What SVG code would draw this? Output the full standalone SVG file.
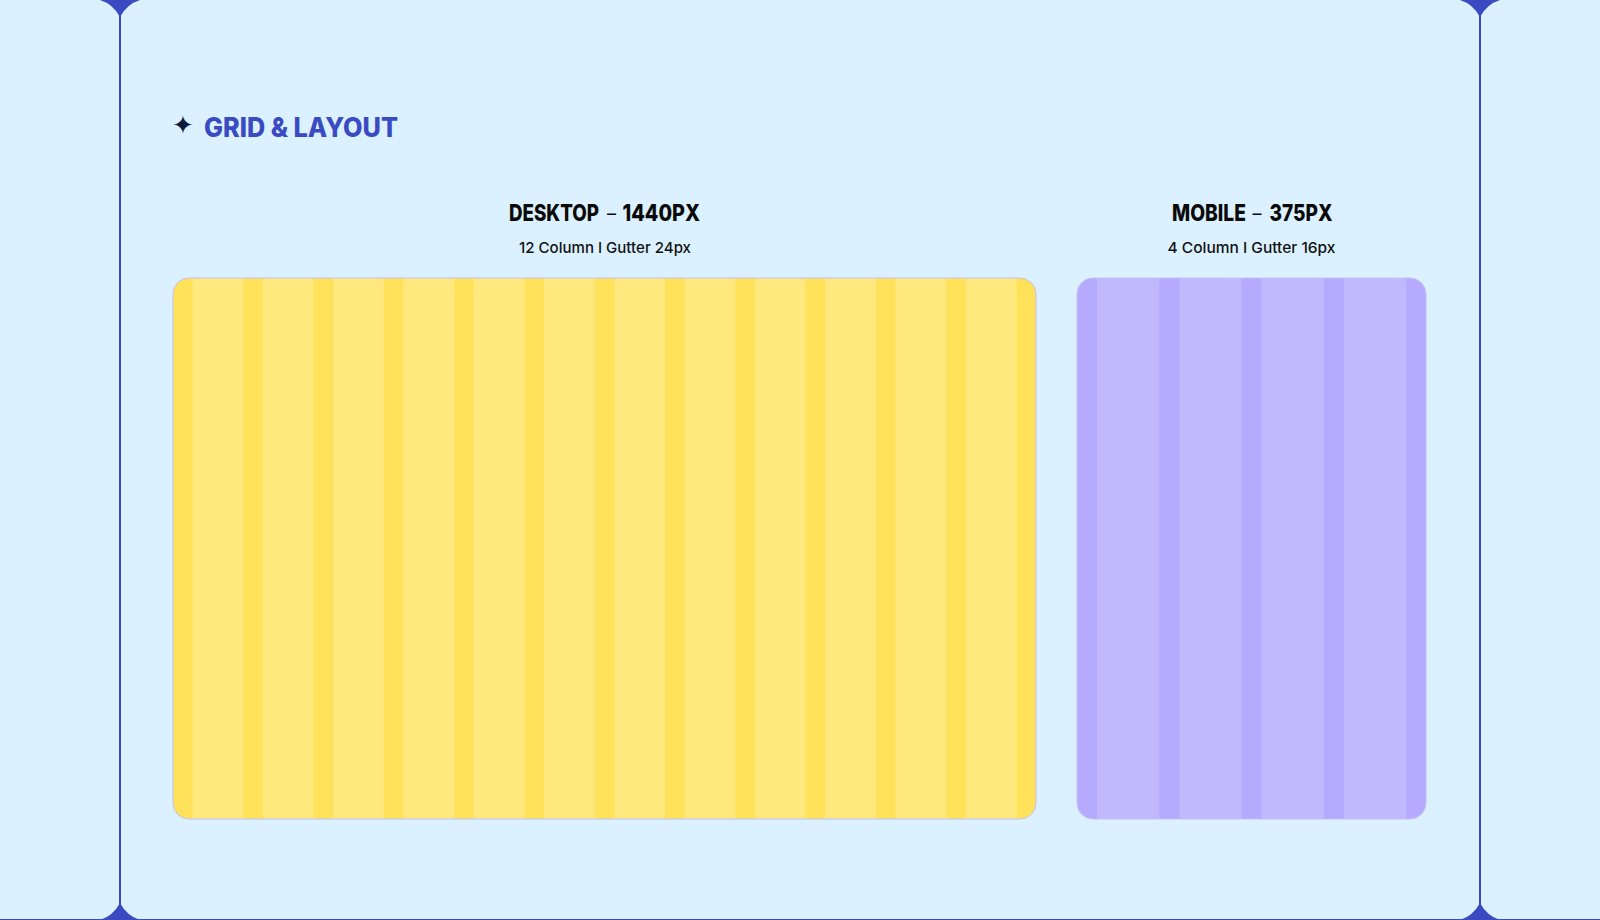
<svg xmlns="http://www.w3.org/2000/svg" width="1600" height="920" viewBox="0 0 1600 920">
<style>
.frame{stroke:#3A4BC2;stroke-width:2;fill:none}
.cusp{fill:#3A4BC2}
.title{font-family:Inter,"Liberation Sans",sans-serif;font-weight:800;font-size:27px;fill:#3A4BC2}
.star{font-family:"DejaVu Sans",sans-serif;font-size:26px;fill:#0F1B3D}
.head{font-family:Inter,"Liberation Sans",sans-serif;font-weight:800;font-size:23px;fill:#0A0A0A}
.dash{font-family:Inter,"Liberation Sans",sans-serif;font-weight:400;font-size:18px;fill:#0A0A0A;text-anchor:middle}
.sub{font-family:Inter,"Liberation Sans",sans-serif;font-weight:500;font-size:15px;fill:#111;text-anchor:middle}
.dpanel{fill:#FFE25A}
.dcol{fill:#FFE87E}
.mpanel{fill:#B5AAFE}
.mcol{fill:#C1B8FE}
.edge{fill:none;stroke:#C7BEF4;stroke-width:1}
</style>
<rect width="1600" height="920" fill="#DBF1FF"/>
<g id="frame">
<line class="frame" x1="120" y1="0" x2="120" y2="920"/>
<line class="frame" x1="1480" y1="0" x2="1480" y2="920"/>
<line x1="0" y1="919.5" x2="1600" y2="919.5" stroke="#3A4BC2" stroke-width="1"/>
<path class="cusp" d="M100,0 Q113,4 120,17 Q127,4 140,0 Z"/>
<path class="cusp" d="M100,920 Q113,916 120,903 Q127,916 140,920 Z"/>
<path class="cusp" d="M1460,0 Q1473,4 1480,17 Q1487,4 1500,0 Z"/>
<path class="cusp" d="M1460,920 Q1473,916 1480,903 Q1487,916 1500,920 Z"/>
</g>
<g id="title">
<text class="star" x="172" y="134">✦</text>
<text class="title" x="204" y="137" textLength="194" lengthAdjust="spacingAndGlyphs">GRID &amp; LAYOUT</text>
</g>
<g id="desktop">
<text class="head" x="509" y="221" textLength="90" lengthAdjust="spacingAndGlyphs">DESKTOP</text>
<text class="dash" x="611.5" y="220">–</text>
<text class="head" x="622.5" y="221" textLength="77.5" lengthAdjust="spacingAndGlyphs">1440PX</text>
<text class="sub" x="605" y="253" textLength="172" lengthAdjust="spacingAndGlyphs">12 Column I Gutter 24px</text>
<clipPath id="dclip"><rect x="173" y="278" width="863" height="541" rx="16"/></clipPath>
<rect class="dpanel" x="173" y="278" width="863" height="541" rx="16"/>
<g clip-path="url(#dclip)">
<rect class="dcol" x="192.5" y="278" width="50.8" height="541"/>
<rect class="dcol" x="262.8" y="278" width="50.8" height="541"/>
<rect class="dcol" x="333.1" y="278" width="50.8" height="541"/>
<rect class="dcol" x="403.4" y="278" width="50.8" height="541"/>
<rect class="dcol" x="473.7" y="278" width="50.8" height="541"/>
<rect class="dcol" x="544.0" y="278" width="50.8" height="541"/>
<rect class="dcol" x="614.3" y="278" width="50.8" height="541"/>
<rect class="dcol" x="684.6" y="278" width="50.8" height="541"/>
<rect class="dcol" x="754.9" y="278" width="50.8" height="541"/>
<rect class="dcol" x="825.2" y="278" width="50.8" height="541"/>
<rect class="dcol" x="895.5" y="278" width="50.8" height="541"/>
<rect class="dcol" x="965.8" y="278" width="50.8" height="541"/>
</g>
<rect class="edge" x="173" y="278" width="863" height="541" rx="16"/>
</g>
<g id="mobile">
<text class="head" x="1172" y="221" textLength="74" lengthAdjust="spacingAndGlyphs">MOBILE</text>
<text class="dash" x="1257" y="220">–</text>
<text class="head" x="1269.5" y="221" textLength="63" lengthAdjust="spacingAndGlyphs">375PX</text>
<text class="sub" x="1251.5" y="253" textLength="168" lengthAdjust="spacingAndGlyphs">4 Column I Gutter 16px</text>
<clipPath id="mclip"><rect x="1077" y="278" width="349" height="541" rx="16"/></clipPath>
<rect class="mpanel" x="1077" y="278" width="349" height="541" rx="16"/>
<g clip-path="url(#mclip)">
<rect class="mcol" x="1097" y="278" width="62.3" height="541"/>
<rect class="mcol" x="1179.3" y="278" width="62.3" height="541"/>
<rect class="mcol" x="1261.6" y="278" width="62.3" height="541"/>
<rect class="mcol" x="1343.9" y="278" width="62.3" height="541"/>
</g>
<rect class="edge" x="1077" y="278" width="349" height="541" rx="16"/>
</g>
</svg>
